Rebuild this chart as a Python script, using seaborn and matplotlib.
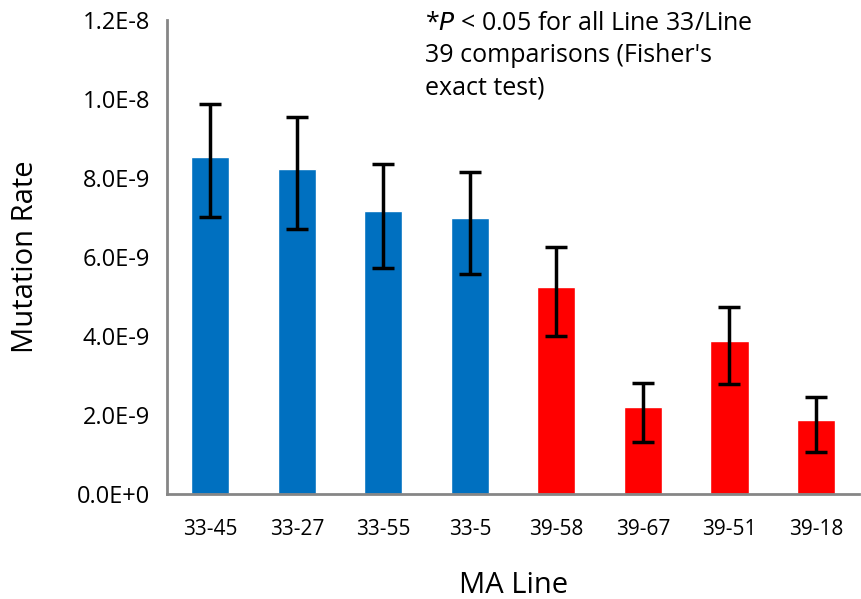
import numpy as np
import pandas as pd
import matplotlib
matplotlib.use("Agg")
import matplotlib.pyplot as plt
import seaborn as sns

# data
lines = ["33-45", "33-27", "33-55", "33-5", "39-58", "39-67", "39-51", "39-18"]
rates = [8.53e-9, 8.23e-9, 7.16e-9, 6.99e-9, 5.24e-9, 2.20e-9, 3.87e-9, 1.87e-9]
err_low = [7.01e-9, 6.71e-9, 5.72e-9, 5.57e-9, 4.00e-9, 1.32e-9, 2.78e-9, 1.06e-9]
err_high = [9.87e-9, 9.54e-9, 8.35e-9, 8.15e-9, 6.25e-9, 2.81e-9, 4.73e-9, 2.46e-9]
groups = ["33", "33", "33", "33", "39", "39", "39", "39"]
group_colors = {"33": "#0070C0", "39": "#FF0000"}

df = pd.DataFrame({"line": lines, "rate": rates, "group": groups})

sns.set_style("white")
plt.rcParams['font.family'] = ['Open Sans', 'DejaVu Sans']
plt.rcParams['text.color'] = 'black'
plt.rcParams['axes.labelcolor'] = 'black'
plt.rcParams['xtick.labelcolor'] = 'black'
plt.rcParams['ytick.labelcolor'] = 'black'

fig = plt.figure(figsize=(8.61, 5.99), dpi=100)
ax = fig.add_axes([0.194, 0.175, 0.804, 0.792])

sns.barplot(data=df, x="line", y="rate", hue="group", palette=group_colors,
            dodge=False, width=0.44, legend=False, ax=ax, saturation=1)

yerr = np.array([np.array(rates) - np.array(err_low), np.array(err_high) - np.array(rates)])
ax.errorbar(np.arange(len(lines)), rates, yerr=yerr, fmt="none", ecolor="black",
            elinewidth=2.5, capsize=8, capthick=2.5)

ax.set_ylim(0, 1.2e-8)
ax.set_xlim(-0.5, len(lines) - 0.5)
yt = np.arange(0, 1.21e-8, 2e-9)
ax.set_yticks(yt)
ax.set_yticklabels([f"{v:.1E}".replace("E-0", "E-").replace("E+00", "E+0") for v in yt], fontsize=17)
ax.set_xticks(np.arange(len(lines)))
ax.set_xticklabels(lines, fontsize=15)
ax.set_xticks(np.arange(-0.5, len(lines)), minor=True)
ax.tick_params(axis="x", which="major", length=0, pad=18)
ax.tick_params(axis="x", which="minor", length=6, width=2, color="#868686", direction="out")
ax.tick_params(axis="y", length=6, width=2, color="#868686", direction="out", pad=6)

for s in ["top", "right"]:
    ax.spines[s].set_visible(False)
for s in ["left", "bottom"]:
    ax.spines[s].set_color("#868686")
    ax.spines[s].set_linewidth(2)

ax.set_xlabel("MA Line", fontsize=21, labelpad=22)
ax.set_ylabel("Mutation Rate", fontsize=21, labelpad=27)

fig.text(0.494, 0.982, "*$\\mathit{P}$ < 0.05 for all Line 33/Line\n39 comparisons (Fisher's\nexact test)",
         fontsize=18, va="top", ha="left", linespacing=1.4)

fig.savefig("out.png", dpi=100)
